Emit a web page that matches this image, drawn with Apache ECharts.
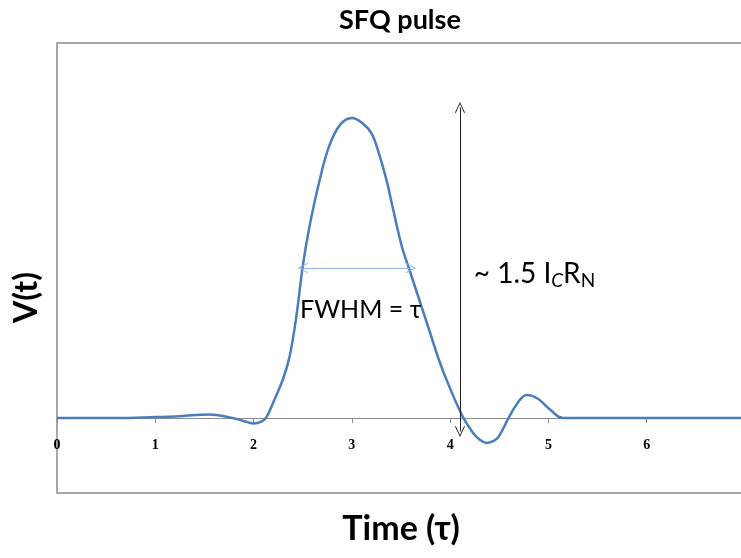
<!DOCTYPE html>
<html>
<head>
<meta charset="utf-8">
<script src="https://cdn.jsdelivr.net/npm/echarts@6/dist/echarts.min.js"></script>
<style>
  html, body { margin: 0; padding: 0; background: #fff; }
  #main { width: 741px; height: 558px; }
</style>
</head>
<body>
<div id="main"></div>
<script>
// pulse (time in tau, voltage scaled so the peak is 1)
const timeVals = [0, 0.6, 1.0, 1.25, 1.55, 1.76, 1.89, 2.0, 2.08, 2.13, 2.2, 2.3, 2.37, 2.44, 2.5, 2.57,
  2.67, 2.77, 2.88, 3.0, 3.11, 3.2, 3.28, 3.36, 3.41, 3.51, 3.58, 3.68, 3.79, 3.89, 3.96,
  4.12, 4.23, 4.3, 4.37, 4.43, 4.49, 4.59, 4.69, 4.78, 4.89, 5.01, 5.15, 5.3, 6.0, 7.0];
const voltVals = [0, 0, 0.003, 0.006, 0.012, 0.002, -0.009, -0.018, -0.012, 0.002, 0.052, 0.13, 0.21, 0.35, 0.505, 0.64,
  0.79, 0.907, 0.977, 1.0, 0.982, 0.949, 0.877, 0.783, 0.71, 0.57, 0.5, 0.4, 0.29, 0.19, 0.13,
  0.01, -0.048, -0.072, -0.083, -0.078, -0.064, -0.003, 0.052, 0.077, 0.065, 0.03, 0, 0, 0, 0];

// annotation arrows
const fwhmArrow = [[2.5, 0.5], [3.6, 0.5]];
const ampArrow = [[4.1, 1.035], [4.1, -0.045]];
const fwhmLabelPos = [3.09, 0.36];
const ampLabelPos = [4.24, 0.48];

const myChart = echarts.init(document.getElementById('main'));
const pulse = timeVals.map((t, i) => [t, voltVals[i]]);
const vHead = 'path://M0 0L6 11L5 11.6L0 2.2L-5 11.6L-6 11Z';

const option = {
  animation: false,
  title: {
    text: 'SFQ pulse',
    left: 334,
    top: 2,
    textStyle: { fontFamily: 'Lato', fontWeight: 'bold', fontSize: 27, color: '#000' }
  },
  grid: {
    left: 57, right: -4, top: 43, bottom: 65,
    outerBoundsMode: 'none',
    containLabel: false,
    show: true, borderColor: '#8c8c8c', borderWidth: 1.5
  },
  xAxis: {
    type: 'value',
    min: 0, max: 7, interval: 1,
    name: 'Time (τ)',
    nameLocation: 'middle',
    nameGap: 19,
    nameTextStyle: { fontFamily: 'Lato', fontWeight: 'bold', fontSize: 34, color: '#000' },
    axisLine: { onZero: true, lineStyle: { color: '#8c8c8c', width: 1.2 } },
    axisTick: { show: true, length: 5, lineStyle: { color: '#8c8c8c' } },
    axisLabel: {
      margin: -55, showMaxLabel: false,
      fontFamily: 'Liberation Serif', fontWeight: 'bold', fontSize: 14, color: '#000'
    },
    splitLine: { show: false }
  },
  yAxis: {
    type: 'value',
    min: -0.25, max: 1.25,
    axisLine: { show: false },
    axisTick: { show: false },
    axisLabel: { show: false },
    splitLine: { show: false }
  },
  graphic: [{
    type: 'text',
    left: 11, top: 272,
    rotation: Math.PI / 2,
    style: { text: 'V(t)', fontFamily: 'Lato', fontWeight: 'bold', fontSize: 32, fill: '#000' }
  }],
  series: [{
    type: 'line',
    data: pulse,
    smooth: 0.4,
    showSymbol: false,
    lineStyle: { color: '#4a7ebb', width: 2.5 },
    markLine: {
      silent: true,
      symbol: [vHead, vHead],
      symbolSize: [10, 11],
      label: { show: false },
      data: [
        [{ coord: fwhmArrow[0], lineStyle: { color: '#8eb4e3', width: 1.2, type: 'solid' } }, { coord: fwhmArrow[1] }],
        [{ coord: ampArrow[0], lineStyle: { color: '#222', width: 1, type: 'solid' } }, { coord: ampArrow[1] }]
      ]
    },
    markPoint: {
      silent: true,
      symbolSize: 0,
      data: [
        {
          coord: fwhmLabelPos,
          label: {
            show: true, formatter: 'FWHM = τ',
            fontFamily: 'Lato', fontSize: 25, color: '#000'
          }
        },
        {
          coord: ampLabelPos,
          label: {
            show: true, align: 'left',
            formatter: '{a|~ 1.5 I}{s|C}{a|R}{n|N}',
            rich: {
              a: { fontFamily: 'Lato', fontSize: 28, color: '#000' },
              s: { fontFamily: 'Lato', fontStyle: 'italic', fontSize: 19, color: '#000', padding: [13, 0, 0, 0] },
              n: { fontFamily: 'Lato', fontSize: 19, color: '#000', padding: [13, 0, 0, 0] }
            }
          }
        }
      ]
    }
  }]
};
myChart.setOption(option);
</script>
</body>
</html>
